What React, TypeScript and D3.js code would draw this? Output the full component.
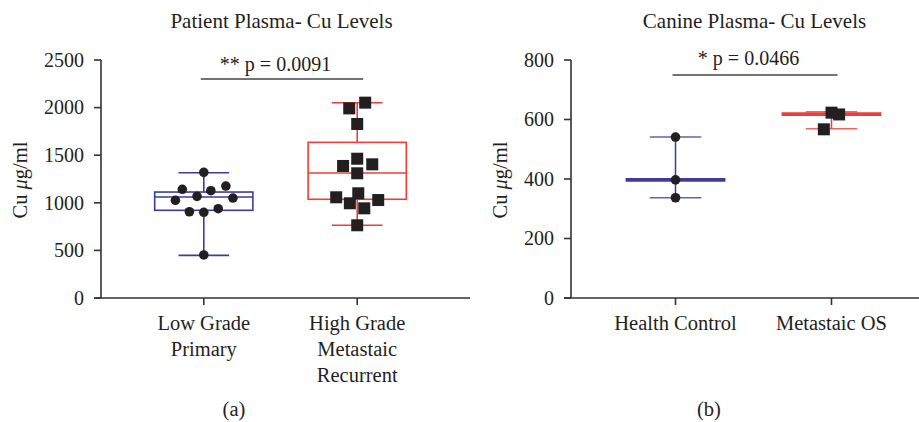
import React from "react";
import * as d3 from "d3";

// ---- data ----
const leftCategories = ["Low Grade\nPrimary", "High Grade\nMetastaic\nRecurrent"];
const leftTicks = [0, 500, 1000, 1500, 2000, 2500];
const lowGradeValues = [1320, 1142, 1127, 1176, 1026, 1068, 1050, 906, 900, 938, 452];
const lowGradeJitter = [0, -0.14, 0.046, 0.144, -0.185, -0.044, 0.19, -0.094, 0, 0.094, 0];
const highGradeValues = [2052, 1992, 1828, 1463, 1387, 1404, 1310, 1100, 1058, 995, 942, 1029, 764];
const highGradeJitter = [0.052, -0.052, 0, 0, -0.092, 0.098, 0, 0.007, -0.137, -0.048, 0.046, 0.137, 0];
// [min, q1, median, q3, max]
const lowGradeBox = [448, 921, 1061, 1113, 1316];
const highGradeBox = [764, 1037, 1313, 1635, 2051];

const rightCategories = ["Health Control", "Metastaic OS"];
const rightTicks = [0, 200, 400, 600, 800];
const controlValues = [541, 397, 337];
const controlJitter = [0, 0, 0];
const metastaticValues = [623, 617, 567];
const metastaticJitter = [0, 0.049, -0.049];
// [min, median, max]
const controlRange = [337, 397, 541];
const metastaticRange = [569, 618, 626];

const BLUE = "#3c3c9c";
const RED = "#ea3f3a";
const INK = "#231f20";
const AXIS = "#333";
const FONT = "'Liberation Serif', 'DejaVu Serif', serif";

type Group = {
  values: number[];
  jitter: number[];
  color: string;
  shape: "circle" | "square";
  box?: number[];
  range?: number[];
};

type PanelProps = {
  x0: number;
  xEnd: number;
  yMax: number;
  ticks: number[];
  categories: string[];
  groups: Group[];
  title: string;
  pText: string;
  letter: string;
  labelX: number;
  tickLabelGap: number;
  letterX: number;
};

function Panel(p: PanelProps) {
  const top = 60;
  const bottom = 298;
  const y = d3.scaleLinear().domain([0, p.yMax]).range([bottom, top]);
  const x = d3.scalePoint<string>().domain(p.categories).range([p.x0, p.xEnd]).padding(0.67);
  const step = x.step();
  const boxW = step * 0.64;
  const capW = step * 0.33;
  const c0 = x(p.categories[0])!;
  const c1 = x(p.categories[1])!;
  const midTitle = (c0 + c1) / 2;
  const big = p.yMax > 1000;

  return (
    <g fontFamily={FONT} fill={INK}>
      <text x={midTitle + 1} y={28} textAnchor="middle" fontSize={21}>
        {p.title}
      </text>
      {/* axes */}
      <line x1={p.x0} x2={p.x0} y1={top} y2={bottom} stroke={AXIS} strokeWidth={1.6} />
      <line x1={p.x0 - 7} x2={p.xEnd + 10} y1={bottom} y2={bottom} stroke={AXIS} strokeWidth={1.6} />
      {p.ticks.map((t) => (
        <g key={t}>
          <line x1={p.x0 - 7} x2={p.x0} y1={y(t)} y2={y(t)} stroke={AXIS} strokeWidth={1.6} />
          <text x={p.x0 - p.tickLabelGap} y={y(t)} dy="0.34em" textAnchor="end" fontSize={20}>
            {t}
          </text>
        </g>
      ))}
      {p.categories.map((c) => (
        <g key={c}>
          <line x1={x(c)} x2={x(c)} y1={bottom} y2={bottom + 7} stroke={AXIS} strokeWidth={1.6} />
          {c.split("\n").map((line, i) => (
            <text key={i} x={x(c)} y={330 + i * 26} textAnchor="middle" fontSize={20.5}>
              {line}
            </text>
          ))}
        </g>
      ))}
      <text
        transform={`translate(${p.labelX},${(top + bottom) / 2 + 1}) rotate(-90)`}
        textAnchor="middle"
        fontSize={20.5}
      >
        Cu <tspan fontStyle="italic">μ</tspan>g/ml
      </text>
      {/* significance */}
      <line x1={c0 - 3} x2={c1 + 6} y1={big ? 79 : 75} y2={big ? 79 : 75} stroke="#444" strokeWidth={1.6} />
      <text x={midTitle - 5} y={big ? 71 : 65} textAnchor="middle" fontSize={20}>
        {p.pText}
      </text>
      {/* groups */}
      {p.groups.map((g, gi) => {
        const cx = x(p.categories[gi])!;
        const marks: React.ReactNode[] = [];
        if (g.box) {
          const [mn, q1, md, q3, mx] = g.box;
          marks.push(
            <g key="box" stroke={g.color} strokeWidth={1.6} fill="none">
              <line x1={cx} x2={cx} y1={y(mx)} y2={y(q3)} />
              <line x1={cx} x2={cx} y1={y(q1)} y2={y(mn)} />
              <line x1={cx - capW / 2} x2={cx + capW / 2} y1={y(mx)} y2={y(mx)} />
              <line x1={cx - capW / 2} x2={cx + capW / 2} y1={y(mn)} y2={y(mn)} />
              <rect x={cx - boxW / 2} y={y(q3)} width={boxW} height={y(q1) - y(q3)} />
              <line x1={cx - boxW / 2} x2={cx + boxW / 2} y1={y(md)} y2={y(md)} />
            </g>
          );
        }
        if (g.range) {
          const [mn, md, mx] = g.range;
          marks.push(
            <g key="range" stroke={g.color} fill="none">
              <line x1={cx} x2={cx} y1={y(mx)} y2={y(mn)} strokeWidth={1.5} />
              <line x1={cx - capW / 2} x2={cx + capW / 2} y1={y(mx)} y2={y(mx)} strokeWidth={1.5} opacity={0.8} />
              <line x1={cx - capW / 2} x2={cx + capW / 2} y1={y(mn)} y2={y(mn)} strokeWidth={1.5} opacity={0.8} />
              <line x1={cx - boxW / 2} x2={cx + boxW / 2} y1={y(md)} y2={y(md)} strokeWidth={3.6} />
            </g>
          );
        }
        g.values.forEach((v, i) => {
          const px = cx + g.jitter[i] * step;
          const py = y(v);
          marks.push(
            g.shape === "circle" ? (
              <circle key={"p" + i} cx={px} cy={py} r={4.8} fill={INK} />
            ) : (
              <rect key={"p" + i} x={px - 6} y={py - 6} width={12} height={12} fill={INK} />
            )
          );
        });
        return <g key={gi}>{marks}</g>;
      })}
      <text x={p.letterX} y={416} textAnchor="middle" fontSize={20.5}>
        {p.letter}
      </text>
    </g>
  );
}

export default function App() {
  return (
    <div style={{ position: "absolute", left: 0, top: 0 }}>
      <svg width={919} height={422} style={{ display: "block", background: "#fff" }}>
        <Panel
          x0={101}
          xEnd={460}
          yMax={2500}
          ticks={leftTicks}
          categories={leftCategories}
          groups={[
            { values: lowGradeValues, jitter: lowGradeJitter, color: BLUE, shape: "circle", box: lowGradeBox },
            { values: highGradeValues, jitter: highGradeJitter, color: RED, shape: "square", box: highGradeBox },
          ]}
          title="Patient Plasma- Cu Levels"
          pText="** p = 0.0091"
          letter="(a)"
          labelX={27}
          tickLabelGap={17}
          letterX={234}
        />
        <Panel
          x0={571}
          xEnd={936}
          yMax={800}
          ticks={rightTicks}
          categories={rightCategories}
          groups={[
            { values: controlValues, jitter: controlJitter, color: BLUE, shape: "circle", range: controlRange },
            { values: metastaticValues, jitter: metastaticJitter, color: RED, shape: "square", range: metastaticRange },
          ]}
          title="Canine Plasma- Cu Levels"
          pText="* p = 0.0466"
          letter="(b)"
          labelX={507}
          tickLabelGap={17}
          letterX={709}
        />
      </svg>
    </div>
  );
}
